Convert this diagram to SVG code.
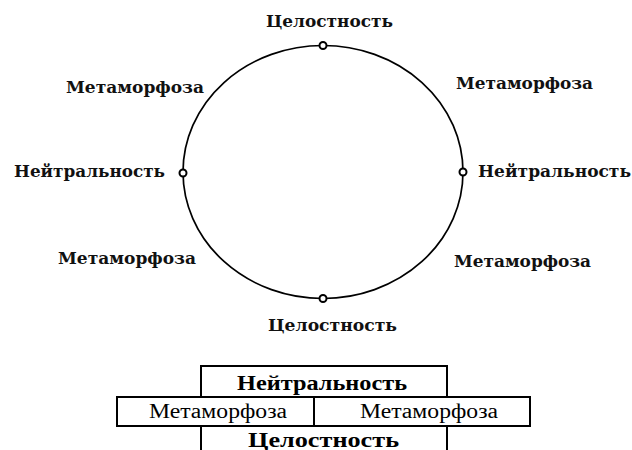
<svg xmlns="http://www.w3.org/2000/svg" width="632" height="450" viewBox="0 0 632 450">
<style>
.lbl{font-family:"DejaVu Serif","Liberation Serif",serif;font-weight:bold;font-size:17px;fill:#111}
.tb{font-family:"Liberation Serif","Times New Roman",serif;font-size:20px;fill:#000}
.b{font-weight:bold}
.cell{fill:none;stroke:#000;stroke-width:2}
.pt{fill:#fff;stroke:#000;stroke-width:2}
</style>
<rect width="632" height="450" fill="#fff"/>
<g id="connectors">
<ellipse cx="323" cy="172" rx="140" ry="126.5" fill="none" stroke="#000" stroke-width="1.7"/>
</g>
<g id="node-top">
<circle class="pt" cx="323" cy="45.5" r="3.5"/>
<text class="lbl" x="266" y="27" textLength="127" lengthAdjust="spacingAndGlyphs">Целостность</text>
</g>
<g id="node-bottom">
<circle class="pt" cx="323" cy="298.5" r="3.5"/>
<text class="lbl" x="268" y="331" textLength="129" lengthAdjust="spacingAndGlyphs">Целостность</text>
</g>
<g id="node-left">
<circle class="pt" cx="183" cy="173" r="3.5"/>
<text class="lbl" x="14" y="177" textLength="151" lengthAdjust="spacingAndGlyphs">Нейтральность</text>
</g>
<g id="node-right">
<circle class="pt" cx="463" cy="172" r="3.5"/>
<text class="lbl" x="478" y="177" textLength="153" lengthAdjust="spacingAndGlyphs">Нейтральность</text>
</g>
<g id="label-ul"><text class="lbl" x="66" y="93" textLength="138" lengthAdjust="spacingAndGlyphs">Метаморфоза</text></g>
<g id="label-ur"><text class="lbl" x="456" y="89" textLength="137" lengthAdjust="spacingAndGlyphs">Метаморфоза</text></g>
<g id="label-ll"><text class="lbl" x="58" y="264" textLength="138" lengthAdjust="spacingAndGlyphs">Метаморфоза</text></g>
<g id="label-lr"><text class="lbl" x="454" y="267" textLength="137" lengthAdjust="spacingAndGlyphs">Метаморфоза</text></g>
<g id="table">
<polyline class="cell" points="201,397 201,366 447,366 447,397"/>
<rect class="cell" x="117" y="397" width="413" height="29"/>
<line class="cell" x1="314" y1="397" x2="314" y2="426"/>
<line class="cell" x1="201" y1="426" x2="201" y2="450"/>
<line class="cell" x1="447" y1="426" x2="447" y2="450"/>
<text class="tb b" x="237" y="390" textLength="170" lengthAdjust="spacingAndGlyphs">Нейтральность</text>
<text class="tb" x="149" y="418" textLength="138" lengthAdjust="spacingAndGlyphs">Метаморфоза</text>
<text class="tb" x="360" y="418" textLength="138" lengthAdjust="spacingAndGlyphs">Метаморфоза</text>
<text class="tb b" x="248" y="447" textLength="151" lengthAdjust="spacingAndGlyphs">Целостность</text>
</g>
</svg>
